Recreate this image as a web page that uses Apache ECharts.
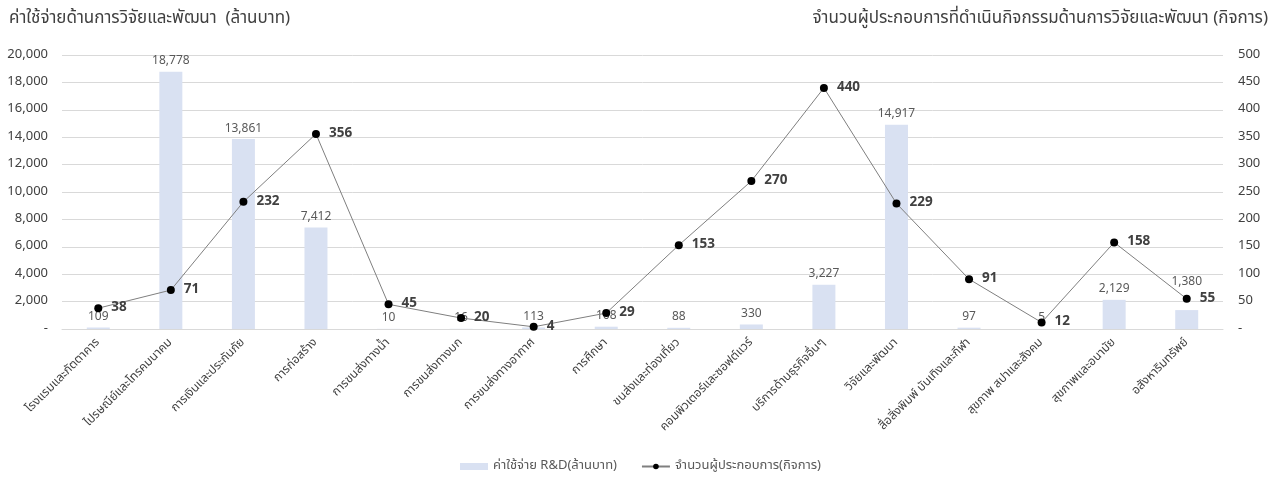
<!DOCTYPE html>
<html>
<head>
<meta charset="utf-8">
<script src="https://cdn.jsdelivr.net/npm/echarts@6/dist/echarts.min.js"></script>
<style>
  html, body { margin: 0; padding: 0; background: #fff; }
  #chart { width: 1281px; height: 481px; }
</style>
</head>
<body>
<div id="chart"></div>
<script>
// Industries (sectors)
const categories = [
  'โรงแรมและภัตตาคาร',
  'ไปรษณีย์และโทรคมนาคม',
  'การเงินและประกันภัย',
  'การก่อสร้าง',
  'การขนส่งทางน้ำ',
  'การขนส่งทางบก',
  'การขนส่งทางอากาศ',
  'การศึกษา',
  'ขนส่งและท่องเที่ยว',
  'คอมพิวเตอร์และซอฟต์แวร์',
  'บริการด้านธุรกิจอื่นๆ',
  'วิจัยและพัฒนา',
  'สื่อสิ่งพิมพ์ บันเทิงและกีฬา',
  'สุขภาพ สปาและสังคม',
  'สุขภาพและอนามัย',
  'อสังหาริมทรัพย์'
];

// R&D expenditure (million baht)
const rdSpending = [109, 18778, 13861, 7412, 10, 16, 113, 168, 88, 330, 3227, 14917, 97, 5, 2129, 1380];

// Number of firms doing R&D
const firmCount = [38, 71, 232, 356, 45, 20, 4, 29, 153, 270, 440, 229, 91, 12, 158, 55];

const barName = 'ค่าใช้จ่าย R&D(ล้านบาท)';
const lineName = 'จำนวนผู้ประกอบการ(กิจการ)';

const FONT = '"Noto Sans Thai", Tahoma, "Noto Sans", sans-serif';

function fmtThousands(v) {
  if (v === 0) return '-';
  return v.toString().replace(/\B(?=(\d{3})+(?!\d))/g, ',');
}

// Lift the last bar's label clear of the line marker sitting on it
const barData = rdSpending.map((v, i) =>
  i === rdSpending.length - 1 ? { value: v, label: { offset: [0, -18] } } : v
);

const chart = echarts.init(document.getElementById('chart'));
chart.setOption({
  animation: false,
  textStyle: { fontFamily: FONT },
  title: [
    {
      text: 'ค่าใช้จ่ายด้านการวิจัยและพัฒนา  (ล้านบาท)',
      left: 4, top: 6,
      textStyle: { fontSize: 17, fontWeight: 'normal', color: '#404040', fontFamily: FONT }
    },
    {
      text: 'จำนวนผู้ประกอบการที่ดำเนินกิจกรรมด้านการวิจัยและพัฒนา (กิจการ)',
      right: 8, top: 6,
      textStyle: { fontSize: 17, fontWeight: 'normal', color: '#404040', fontFamily: FONT }
    }
  ],
  legend: {
    bottom: 3,
    left: 'center',
    itemGap: 24,
    itemWidth: 28,
    itemHeight: 7,
    textStyle: { fontSize: 13, color: '#595959', fontFamily: FONT },
    data: [
      { name: barName, icon: 'rect' },
      { name: lineName }
    ]
  },
  grid: { left: 62, right: 58, top: 55, bottom: 152 },
  xAxis: {
    type: 'category',
    data: categories,
    axisLine: { lineStyle: { color: '#d9d9d9' } },
    axisTick: { show: false },
    axisLabel: {
      rotate: 45,
      interval: 0,
      fontSize: 12,
      color: '#404040',
      margin: 12,
      fontFamily: FONT
    }
  },
  yAxis: [
    {
      type: 'value',
      min: 0, max: 20000, interval: 2000,
      axisLine: { show: false },
      axisTick: { show: false },
      splitLine: { lineStyle: { color: '#d9d9d9' } },
      axisLabel: { fontSize: 13, color: '#404040', margin: 14, formatter: fmtThousands, fontFamily: FONT }
    },
    {
      type: 'value',
      min: 0, max: 500, interval: 50,
      axisLine: { show: false },
      axisTick: { show: false },
      splitLine: { show: false },
      axisLabel: { fontSize: 13, color: '#404040', margin: 15, formatter: fmtThousands, fontFamily: FONT }
    }
  ],
  series: [
    {
      name: barName,
      type: 'bar',
      yAxisIndex: 0,
      data: barData,
      barWidth: 23,
      itemStyle: { color: '#d9e1f2' },
      label: {
        show: true,
        position: 'top',
        distance: 4,
        fontSize: 12,
        color: '#595959',
        formatter: p => fmtThousands(p.value),
        fontFamily: FONT
      }
    },
    {
      name: lineName,
      type: 'line',
      yAxisIndex: 1,
      data: firmCount,
      symbol: 'circle',
      symbolSize: 8,
      lineStyle: { color: '#7f7f7f', width: 1 },
      itemStyle: { color: '#000' },
      label: {
        show: true,
        position: 'right',
        distance: 9,
        fontSize: 13.5,
        fontWeight: 'bold',
        color: '#404040',
        fontFamily: FONT
      },
      z: 5
    }
  ]
});
</script>
</body>
</html>
